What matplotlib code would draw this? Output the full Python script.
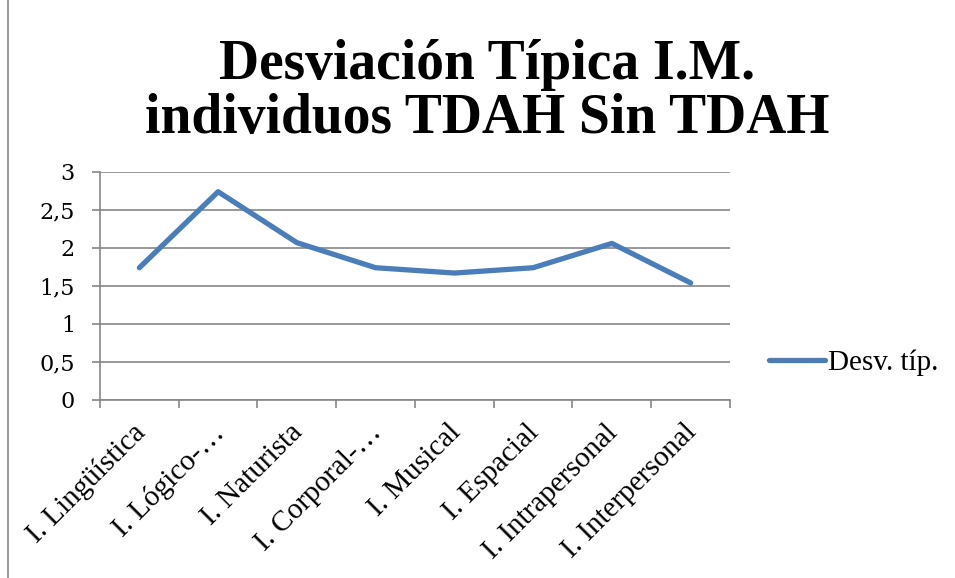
import matplotlib.pyplot as plt
from matplotlib.patches import Rectangle
from matplotlib.transforms import ScaledTranslation

categories = ['I. Lingüística', 'I. Lógico-…', 'I. Naturista', 'I. Corporal-…',
              'I. Musical', 'I. Espacial', 'I. Intrapersonal', 'I. Interpersonal']
desv_tip = [1.74, 2.74, 2.07, 1.74, 1.67, 1.74, 2.06, 1.54]
y_ticks = [0, 0.5, 1, 1.5, 2, 2.5, 3]
y_labels = ['0', '0,5', '1', '1,5', '2', '2,5', '3']

plt.rcParams['font.family'] = ['Liberation Serif', 'DejaVu Serif']

fig = plt.figure(figsize=(9.55, 5.78), dpi=100)
ax = fig.add_axes([0.1047, 0.308, 0.6597, 0.3945])

x = list(range(len(categories)))
ax.plot(x, desv_tip, color='#4A7EBB', linewidth=3.8, solid_capstyle='round',
        label='Desv. típ.')

ax.set_xlim(-0.5, len(categories) - 0.5)
ax.set_ylim(0, 3)
ax.set_yticks(y_ticks)
ax.set_yticklabels(y_labels, fontsize=16, family='DejaVu Serif')
ax.yaxis.grid(True, color='#868686', linewidth=1.2)
ax.set_axisbelow(True)

# category boundaries as major ticks, names on minor ticks
ax.set_xticks([i - 0.5 for i in range(len(categories) + 1)])
ax.set_xticklabels([])
ax.set_xticks(x, minor=True)
ax.set_xticklabels(categories, minor=True, rotation=45, ha='right',
                   va='top', rotation_mode='anchor', fontsize=21)
ax.tick_params(axis='x', which='minor', length=0, pad=6)
ax.tick_params(axis='both', which='major', direction='out', length=6,
               color='#868686', width=1.2)
ax.tick_params(axis='y', pad=12)

# nudge the rotated names down-left a bit, like Excel places them
shift = ScaledTranslation(-7 / 100, -11 / 100, fig.dpi_scale_trans)
for lab in ax.get_xticklabels(minor=True):
    lab.set_transform(lab.get_transform() + shift)

for side in ['top', 'right']:
    ax.spines[side].set_visible(False)
ax.spines['left'].set_color('#868686')
ax.spines['bottom'].set_color('#868686')
ax.spines['left'].set_linewidth(1.2)
ax.spines['bottom'].set_linewidth(1.2)

fig.text(0.51, 0.84, 'Desviación Típica I.M.\nindividuos TDAH Sin TDAH',
         ha='center', va='center', fontsize=40, fontweight='bold',
         linespacing=1.05)

fig.legend(loc='center left', bbox_to_anchor=(0.778, 0.372), frameon=False,
           fontsize=21, handlelength=1.9, handletextpad=0.1)

fig.patches.append(Rectangle((0.008, -0.01), 1.5, 1.02, transform=fig.transFigure,
                             fill=False, edgecolor='#868686', linewidth=1.2))

fig.savefig('out.png', dpi=100)
